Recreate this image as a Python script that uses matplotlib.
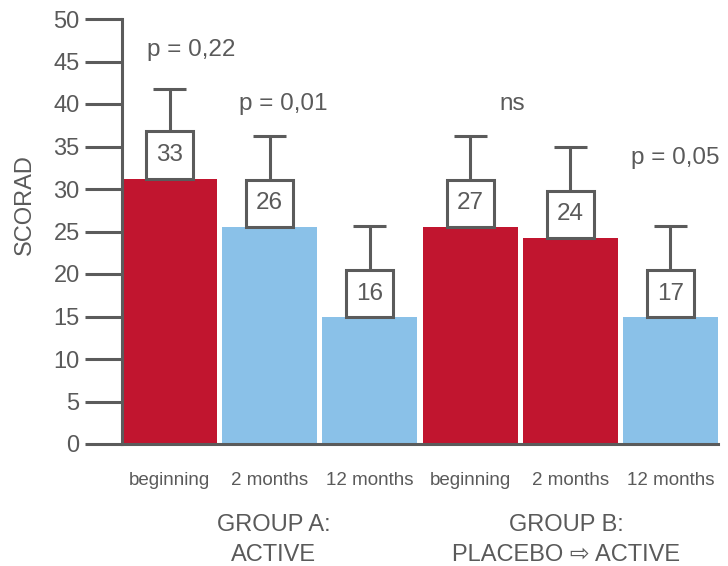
import matplotlib
matplotlib.use("Agg")
import matplotlib.pyplot as plt
from matplotlib.patches import Rectangle

plt.rcParams['font.family'] = ['Liberation Sans', 'DejaVu Sans', 'Noto Sans CJK SC']

categories = ["beginning", "2 months", "12 months", "beginning", "2 months", "12 months"]
bar_values = [31.2, 25.5, 14.9, 25.5, 24.2, 14.9]
label_values = ["33", "26", "16", "27", "24", "17"]
error_tops = [41.8, 36.2, 25.6, 36.2, 35.0, 25.6]
colors_kind = ["red", "blue", "blue", "red", "red", "blue"]
p_texts = ["p = 0,22", "p = 0,01", "ns", "p = 0,05"]
p_x = [0.215, 1.135, 3.425, 5.045]
p_y = [46.3, 40.0, 40.0, 33.7]
group_line1 = ["GROUP A:", "GROUP B:"]
group_line2 = ["ACTIVE", "PLACEBO \u21e8 ACTIVE"]
group_x = [1.04, 3.96]

RED = "#C1152F"
BLUE = "#8AC1E8"
GRAY = "#5b5b5b"
TXT = "#5a5a5a"
cmap = {"red": RED, "blue": BLUE}

fig = plt.figure(figsize=(7.28, 5.66), dpi=100)
ax = fig.add_axes([122/728, 1-444/566, (718-122)/728, (444-19)/566])

x = list(range(len(categories)))
ax.bar(x, bar_values, width=0.95, color=[cmap[c] for c in colors_kind], zorder=2)

box_w = 0.47
box_h = 5.6
cap_w = 0.33
for xi, v, lab, et in zip(x, bar_values, label_values, error_tops):
    ax.add_patch(Rectangle((xi - box_w/2, v), box_w, box_h, facecolor="white",
                           edgecolor=GRAY, linewidth=2.2, zorder=3))
    ax.text(xi, v + box_h/2, lab, ha="center", va="center", fontsize=17.5,
            color=TXT, zorder=4)
    ax.plot([xi, xi], [v + box_h, et], color=GRAY, lw=2.2, zorder=3, solid_capstyle="butt")
    ax.plot([xi - cap_w/2, xi + cap_w/2], [et, et], color=GRAY, lw=2.2, zorder=3, solid_capstyle="butt")

for t, px, py in zip(p_texts, p_x, p_y):
    ax.text(px, py, t, ha="center", va="center", fontsize=17.5, color=TXT)

ax.set_xlim(-0.475, 5.475)
ax.set_ylim(0, 50)
ax.set_yticks(range(0, 51, 5))
ax.set_xticks([])
ax.tick_params(axis="y", direction="out", length=27, width=2.2, color=GRAY,
               labelsize=17, labelcolor=TXT, pad=3.5)
for s in ["top", "right"]:
    ax.spines[s].set_visible(False)
for s in ["left", "bottom"]:
    ax.spines[s].set_color(GRAY)
    ax.spines[s].set_linewidth(2.2)
ax.spines["bottom"].set_zorder(5)

for xi, c in zip(x, categories):
    ax.text(xi, -4.3, c, ha="center", va="center", fontsize=13.5, color=TXT,
            clip_on=False)

for gx, l1, l2 in zip(group_x, group_line1, group_line2):
    ax.text(gx, -9.55, l1, ha="center", va="center", fontsize=17, color=TXT, clip_on=False)
    ax.text(gx, -13.1, l2, ha="center", va="center", fontsize=17, color=TXT, clip_on=False)

fig.text(25/728, 1-205/566, "SCORAD", rotation=90, ha="center", va="center",
         fontsize=17, color=TXT)

fig.savefig("out.png", dpi=100)
